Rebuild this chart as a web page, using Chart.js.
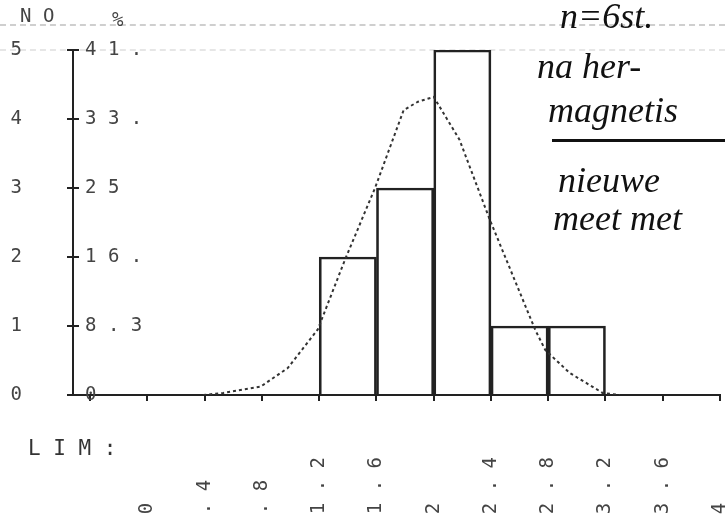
<!DOCTYPE html>
<html>
<head>
<meta charset="utf-8">
<script src="https://cdn.jsdelivr.net/npm/chart.js@4.4.1/dist/chart.umd.min.js"></script>
<style>
    body { margin: 0; background: #fff; }
    #wrap { position: relative; width: 725px; height: 528px; overflow: hidden; background: #fff; }
    #wrap canvas { position: absolute; left: 0; top: 0; }
    .rule { position: absolute; left: 0; width: 725px; border-top: 2px dashed #cfcfcf; }
    .prn { position: absolute; font-family: "DejaVu Sans Mono", monospace; font-size: 19px; color: #444; white-space: pre; line-height: 1; }
    .hand { position: absolute; font-family: "Liberation Serif", serif; font-style: italic; font-size: 36px; color: #111; white-space: nowrap; line-height: 1; }
</style>
</head>
<body>
<div id="wrap">
    <div class="rule" style="top:24px"></div>
    <div class="rule" style="top:49px; border-top-color:#e6e6e6"></div>
    <canvas id="histChart" width="725" height="528"></canvas>
    <div class="prn" style="left:20px; top:6px">N O</div>
    <div class="prn" style="left:112px; top:10px">%</div>
    <div class="prn" style="left:28px; top:438px; color:#333; font-size:21px">L I M :</div>
    <div class="hand" style="left:560px; top:-2px">n=6st.</div>
    <div class="hand" style="left:537px; top:48px">na her-</div>
    <div class="hand" style="left:548px; top:92px">magnetis</div>
    <div style="position:absolute; left:552px; top:139px; width:180px; border-top:3px solid #111"></div>
    <div class="hand" style="left:558px; top:162px">nieuwe</div>
    <div class="hand" style="left:553px; top:200px">meet met</div>
</div>
<script>
// bins of 0.4, centres and counts (12 values in total)
const binCentres = [1.4, 1.8, 2.2, 2.6, 3.0];
const binCounts = [2, 3, 5, 1, 1];

// fitted curve as plotted
const curveX = [0.39, 0.53, 0.67, 0.79, 0.98, 1.19, 1.38, 1.59, 1.79, 1.89, 2.00, 2.18, 2.39, 2.71, 2.78, 2.95, 3.18, 3.30];
const curveY = [0.00, 0.03, 0.08, 0.12, 0.39, 0.95, 1.96, 3.00, 4.13, 4.25, 4.32, 3.70, 2.55, 0.94, 0.65, 0.32, 0.03, 0.00];

// axis ticks
const limTicks = [-0.4, 0, 0.4, 0.8, 1.2, 1.6, 2.0, 2.4, 2.8, 3.2, 3.6, 4.0];
const limLabels = ['', '0', '.4', '.8', '1.2', '1.6', '2', '2.4', '2.8', '3.2', '3.6', '4'];
const countLabels = ['0', '1', '2', '3', '4', '5'];
const pctLabels = ['0', '8.3', '16.', '25', '33.', '41.'];

const ink = '#222';
const printFont = { family: 'DejaVu Sans Mono', size: 19 };

// printer style: one blank between characters
function spaced(s) {
    return s.split('').join(' ');
}

// fixed axis box, no extra room for overhanging labels
function fixBox(w, h) {
    return s => {
        if (w !== null) s.width = w;
        if (h !== null) s.height = h;
        s.paddingLeft = s.paddingRight = s.paddingTop = s.paddingBottom = 0;
    };
}

function buildChart() {
    const ctx = document.getElementById('histChart').getContext('2d');
    new Chart(ctx, {
        data: {
            datasets: [{
                type: 'line',
                data: curveX.map((x, i) => ({ x: x, y: curveY[i] })),
                borderColor: '#333',
                borderWidth: 2,
                borderDash: [3, 3],
                pointRadius: 0,
                tension: 0,
                fill: false
            }, {
                type: 'bar',
                data: binCentres.map((x, i) => ({ x: x, y: binCounts[i] })),
                backgroundColor: 'rgba(0,0,0,0)',
                borderColor: ink,
                borderWidth: 2,
                barPercentage: 1,
                categoryPercentage: 1
            }]
        },
        options: {
            responsive: false,
            animation: false,
            layout: { padding: { top: 50, right: 5, left: 0, bottom: 0 } },
            plugins: { legend: { display: false }, tooltip: { enabled: false } },
            scales: {
                x: {
                    type: 'linear',
                    offset: false,
                    min: -0.52,
                    max: 4.0,
                    afterBuildTicks: s => { s.ticks = limTicks.map(v => ({ value: v })); },
                    afterFit: fixBox(null, 133),
                    border: { color: ink, width: 2 },
                    grid: { offset: false, drawOnChartArea: false, tickLength: 6, color: ink, lineWidth: 2 },
                    ticks: {
                        autoSkip: false,
                        minRotation: 90,
                        maxRotation: 90,
                        padding: 56,
                        color: '#444',
                        font: printFont,
                        callback: (v, i) => spaced(limLabels[i] || '').padEnd(5, ' ')
                    }
                },
                y: {
                    position: 'left',
                    weight: 1,
                    min: 0,
                    max: 5,
                    afterBuildTicks: s => { s.ticks = countLabels.map((t, i) => ({ value: i })); },
                    afterFit: fixBox(73, null),
                    border: { color: ink, width: 2 },
                    grid: { drawOnChartArea: false, tickLength: 6, color: ink, lineWidth: 2 },
                    ticks: {
                        padding: 45,
                        color: '#444',
                        font: printFont,
                        callback: (v, i) => countLabels[i]
                    }
                },
                yPct: {
                    position: 'left',
                    weight: 0,
                    min: 0,
                    max: 5,
                    afterBuildTicks: s => { s.ticks = pctLabels.map((t, i) => ({ value: i })); },
                    afterFit: fixBox(0, null),
                    border: { display: false },
                    grid: { drawOnChartArea: false, tickLength: -6, color: ink, lineWidth: 2 },
                    ticks: {
                        mirror: true,
                        padding: 12,
                        color: '#444',
                        font: printFont,
                        callback: (v, i) => spaced(pctLabels[i])
                    }
                }
            }
        }
    });
}

window.addEventListener('DOMContentLoaded', buildChart);
</script>
</body>
</html>
